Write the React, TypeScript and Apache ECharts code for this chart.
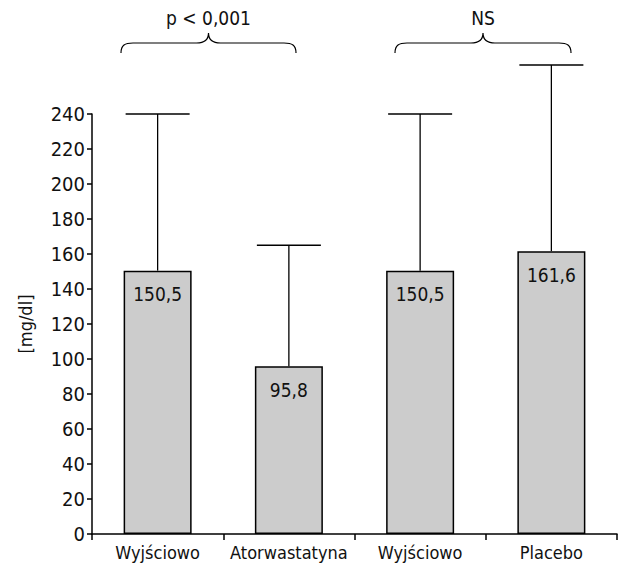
import React, { useEffect, useRef } from "react";
import * as echarts from "echarts";

const categories = ["Wyjściowo", "Atorwastatyna", "Wyjściowo", "Placebo"];
const means = [150.5, 95.8, 150.5, 161.6];
const upperErrors = [240, 165, 240, 268];
const yTicks = { min: 0, max: 240, interval: 20 };
const comparisonLabels = ["p < 0,001", "NS"];

const FONT = "'DejaVu Sans Condensed', 'Liberation Sans Narrow', 'Liberation Sans', Arial, sans-serif";

function bracePath(x1: number, x2: number, yEnd: number, yFlat: number, yTip: number) {
  const xm = (x1 + x2) / 2;
  const r = 12;
  return (
    `M${x1},${yEnd} C${x1},${yFlat + 2} ${x1 + 4},${yFlat} ${x1 + r},${yFlat} ` +
    `L${xm - r},${yFlat} C${xm - 4},${yFlat} ${xm},${yFlat - 3} ${xm},${yTip} ` +
    `C${xm},${yFlat - 3} ${xm + 4},${yFlat} ${xm + r},${yFlat} ` +
    `L${x2 - r},${yFlat} C${x2 - 4},${yFlat} ${x2},${yFlat + 2} ${x2},${yEnd}`
  );
}

export default function App() {
  const ref = useRef<HTMLDivElement>(null);
  useEffect(() => {
    if (!ref.current) return;
    const chart = echarts.init(ref.current, null, { renderer: "svg" });
    const barWidth = 68;
    const capHalf = 32;
    const braceSpans = [
      [121, 296],
      [395, 571],
    ];
    const graphics: any[] = [];
    braceSpans.forEach(([x1, x2], k) => {
      const name = "brace" + k;
      echarts.graphic.registerShape(name, echarts.graphic.extendPath(bracePath(x1, x2, 53, 43, 33), {}) as any);
      graphics.push({ type: name, x: 0, y: 0, style: { stroke: "#000", lineWidth: 1.2, fill: null } });
      graphics.push({
        type: "text",
        x: (x1 + x2) / 2,
        y: 18,
        style: {
          text: comparisonLabels[k],
          fill: "#111",
          fontSize: 19,
          fontFamily: FONT,
          textAlign: "center",
          textVerticalAlign: "middle",
        },
      });
    });
    const option: any = {
      animation: false,
      graphic: graphics,
      grid: { left: 92, right: 1, top: 114, bottom: 32, containLabel: false },
      xAxis: {
        type: "category",
        data: categories,
        axisLine: { show: true, lineStyle: { color: "#000", width: 1.5 } },
        axisTick: { show: true, length: 6, lineStyle: { color: "#000", width: 1.5 } },
        axisLabel: { color: "#111", fontSize: 18, fontFamily: FONT, margin: 9, interval: 0 },
      },
      yAxis: {
        type: "value",
        min: yTicks.min,
        max: yTicks.max,
        interval: yTicks.interval,
        name: "[mg/dl]",
        nameLocation: "middle",
        nameGap: 58,
        nameTextStyle: { color: "#111", fontSize: 18, fontFamily: FONT },
        axisLine: { show: true, lineStyle: { color: "#000", width: 1.5 } },
        axisTick: { show: true, length: 5, lineStyle: { color: "#000", width: 1.5 } },
        axisLabel: { color: "#111", fontSize: 20, fontFamily: FONT, margin: 7 },
        splitLine: { show: false },
      },
      series: [
        {
          type: "bar",
          data: means,
          barWidth,
          itemStyle: { color: "#cccccc", borderColor: "#000", borderWidth: 1.5 },
          label: {
            show: true,
            position: "insideTop",
            distance: 14,
            color: "#111",
            fontSize: 19,
            fontFamily: FONT,
            formatter: (p: any) => String(p.value).replace(".", ","),
          },
          z: 2,
        },
        {
          type: "custom",
          clip: false,
          z: 3,
          data: categories.map((_, i) => [i, means[i], upperErrors[i]]),
          renderItem: (params: any, api: any) => {
            const idx = api.value(0);
            const base = api.coord([idx, api.value(1)]);
            const top = api.coord([idx, api.value(2)]);
            const style = { stroke: "#000", lineWidth: 1.3, fill: null };
            return {
              type: "group",
              children: [
                { type: "line", shape: { x1: base[0], y1: base[1], x2: top[0], y2: top[1] }, style },
                { type: "line", shape: { x1: top[0] - capHalf, y1: top[1], x2: top[0] + capHalf, y2: top[1] }, style },
              ],
            };
          },
        },
      ],
    };
    chart.setOption(option);
    return () => chart.dispose();
  }, []);
  return (
    <div
      ref={ref}
      style={{ position: "fixed", left: 0, top: 0, width: 618, height: 566, background: "#fff" }}
    />
  );
}
